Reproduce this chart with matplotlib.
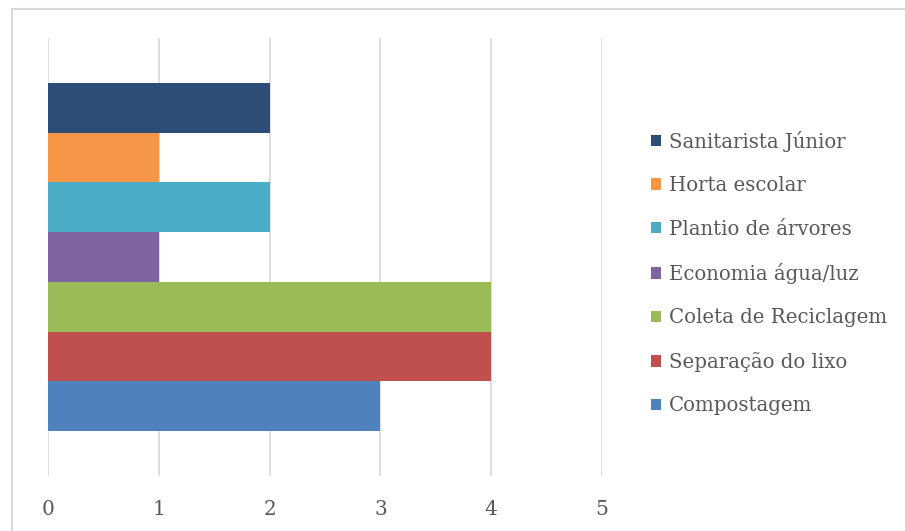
import matplotlib.pyplot as plt
from matplotlib.patches import Patch, Rectangle
import numpy as np

# series (bottom to top in the plot)
labels = ["Compostagem", "Separação do lixo", "Coleta de Reciclagem",
          "Economia água/luz", "Plantio de árvores", "Horta escolar",
          "Sanitarista Júnior"]
values = [3, 4, 4, 1, 2, 1, 2]
colors = ["#4F81BD", "#C0504D", "#9BBB59", "#8064A2", "#4BACC6",
          "#F79646", "#2C4D75"]
xticks = [0, 1, 2, 3, 4, 5]

plt.rcParams['font.family'] = ['DejaVu Serif']
text_color = "#595959"

fig = plt.figure(figsize=(9.05, 5.31), dpi=100)
W, H = 905, 531
ax = fig.add_axes([48 / W, 1 - 476 / H, (602 - 48) / W, (476 - 38) / H])

pos = np.arange(len(values)) - (len(values) - 1) / 2
ax.barh(pos, values, height=1.0, color=colors, zorder=2)

half = len(values) / 2 * 438 / 348
ax.set_ylim(-half, half)
ax.set_xlim(0, 5)
ax.set_xticks(xticks)
ax.set_yticks([])
ax.grid(axis='x', color="#D9D9D9", linewidth=1.2, zorder=0)
for s in ax.spines.values():
    s.set_visible(False)
ax.tick_params(axis='x', length=0, pad=17, labelsize=14.5, labelcolor=text_color)

# chart border
fig.patches.append(Rectangle((12 / W, -0.1), 1.1, 1 - 9 / H + 0.1,
                             transform=fig.transFigure, fill=False,
                             edgecolor="#D9D9D9", linewidth=1.5))

handles = [Patch(facecolor=c) for c in colors][::-1]
fig.legend(handles, labels[::-1], loc='center left',
           bbox_to_anchor=(651 / W, 1 - 273 / H), frameon=False,
           borderpad=0, borderaxespad=0, handlelength=0.5, handleheight=0.5,
           handletextpad=0.4, labelspacing=1.24, fontsize=14.2,
           labelcolor=text_color)

fig.savefig("out.png", dpi=100)
